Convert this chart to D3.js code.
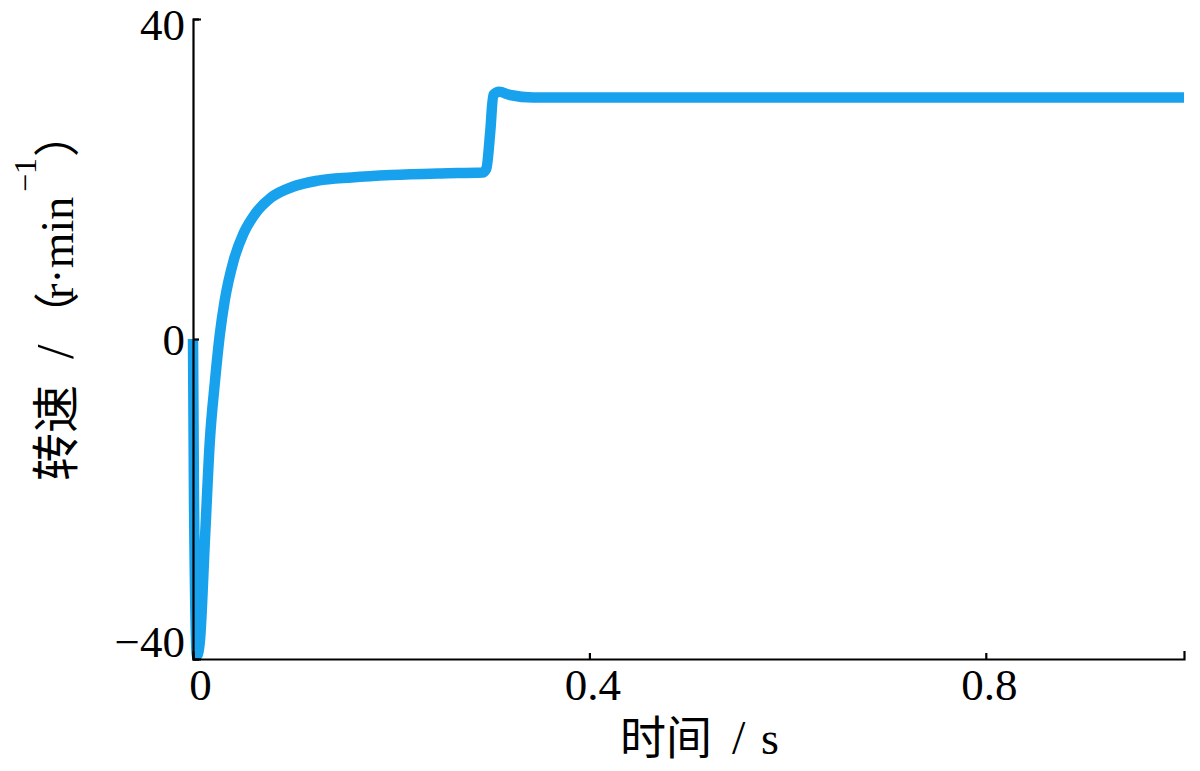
<!DOCTYPE html>
<html><head><meta charset="utf-8">
<script src="https://cdn.jsdelivr.net/npm/d3@7"></script>
<style>
body{margin:0;background:#fff;}
text{font-family:"Liberation Serif","Noto Sans CJK SC",serif;}
</style></head>
<body><svg id="c" width="1200" height="771"></svg>
<script>
// data
const time  = [0, 0.001, 0.004, 0.007, 0.012, 0.017, 0.022, 0.027, 0.032, 0.041, 0.051, 0.063, 0.079, 0.100, 0.126, 0.160, 0.20, 0.25, 0.292, 0.296, 0.300, 0.303, 0.309, 0.320, 0.343, 0.40, 0.60, 0.80, 1.00];
const speed = [0, -20, -39.6, -37.7, -25.2, -12.7, -5.5, 0.5, 4.8, 9.8, 13.2, 15.7, 17.7, 19.0, 19.8, 20.2, 20.5, 20.7, 20.8, 21.3, 26, 30.5, 30.9, 30.5, 30.2, 30.2, 30.2, 30.2, 30.2];
const xTicks = [0, 0.4, 0.8];
const yTicks = [-40, 0, 40];
const xTitleParts = ["时间", "/", "s"];
const yTitleParts = ["转速", "/", "（", "r·min", "\u22121", "）"];

const svg = d3.select("#c");
const x = d3.scaleLinear().domain([0, 1]).range([193, 1184]);
const y = d3.scaleLinear().domain([-40, 40]).range([659, 19]);

const data = time.map((t, i) => ({t, v: speed[i]}));
const line = d3.line().x(d => x(d.t)).y(d => y(d.v)).curve(d3.curveMonotoneX);
svg.append("path").datum(data).attr("d", line)
  .attr("fill", "none").attr("stroke", "#18a2ed").attr("stroke-width", 10.5)
  .attr("stroke-linejoin", "round").attr("stroke-linecap", "butt");

const xAxis = svg.append("g").attr("transform", `translate(0,${y(-40)})`)
  .call(d3.axisBottom(x).tickValues(xTicks).tickSizeInner(-6).tickSizeOuter(-8).tickPadding(9)
    .tickFormat(d => d === 0 ? "0" : d3.format(".1f")(d)));
const yAxis = svg.append("g").attr("transform", `translate(${x(0)},0)`)
  .call(d3.axisLeft(y).tickValues(yTicks).tickSizeInner(-6).tickSizeOuter(-8).tickPadding(8)
    .tickFormat(d => d < 0 ? "\u2212" + Math.abs(d) : String(d)));
[xAxis, yAxis].forEach(g => {
  g.selectAll("path,line").attr("stroke", "#000").attr("stroke-width", 2.2);
  g.selectAll("text").attr("fill", "#000").style("font-size", "45px")
    .style("font-family", "'Liberation Serif', serif");
});
xAxis.selectAll(".tick text").attr("dx", d => d === 0 ? 7 : 3);
yAxis.selectAll(".tick text").attr("dy", d => d === 40 ? "0.45em" : d === -40 ? "-0.05em" : "0.35em");

// x axis title
const xt = svg.append("text").attr("transform", "translate(620,754)")
  .style("font-size", "46px").attr("fill", "#000");
xt.append("tspan").attr("x", 0).text(xTitleParts[0]);
xt.append("tspan").attr("x", 112).style("font-size", "48px").text(xTitleParts[1]);
xt.append("tspan").attr("x", 141).text(xTitleParts[2]);

// y axis title (rotated, reading bottom to top)
const yt = svg.append("text").attr("transform", "translate(73,481) rotate(-90)")
  .style("font-size", "46px").attr("fill", "#000");
yt.append("tspan").attr("x", 0).style("font-size", "48px").text(yTitleParts[0]);
yt.append("tspan").attr("x", 122).style("font-size", "52px").text(yTitleParts[1]);
yt.append("tspan").attr("x", 143).text(yTitleParts[2]);
yt.append("tspan").attr("x", 182).text(yTitleParts[3]);
yt.append("tspan").attr("x", 289).attr("dy", -37).style("font-size", "32px").text(yTitleParts[4]);
yt.append("tspan").attr("x", 324).attr("dy", 37).text(yTitleParts[5]);
</script></body></html>
